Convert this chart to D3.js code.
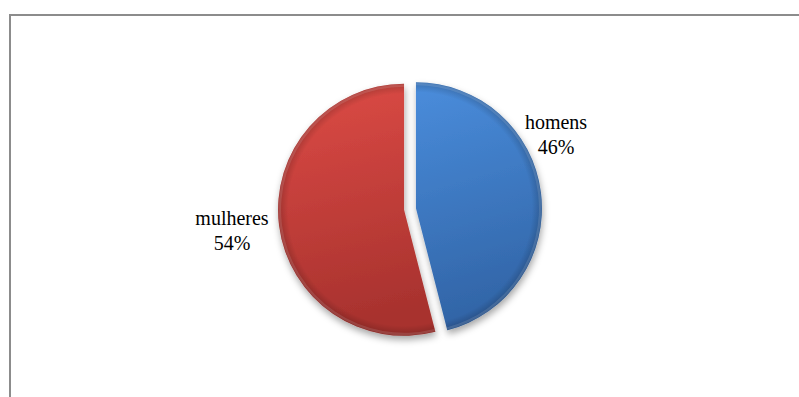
<!DOCTYPE html>
<html>
<head>
<meta charset="utf-8">
<script src="https://cdn.jsdelivr.net/npm/d3@7"></script>
<style>
  html, body { margin: 0; padding: 0; background: #fff; }
  svg { display: block; }
</style>
</head>
<body>
<svg id="chart" width="799" height="397"></svg>
<script>
// Sexo dos respondentes
const categories = ["homens", "mulheres"];
const values = [46, 54];
const percentLabels = ["46%", "54%"];

const W = 799, H = 397;
const cx = 410, cy = 209, R = 126, explode = 6;
const palette = {
  homens:   { top: "#4a8ddc", bottom: "#3164a6" },
  mulheres: { top: "#dd4b46", bottom: "#a8322e" }
};
// label anchor points (centre of the two-line label)
const labelPos = { homens: [556, 136], mulheres: [232, 232] };

const svg = d3.select("#chart");
const defs = svg.append("defs");

// chart frame
svg.append("rect")
  .attr("x", 10).attr("y", 15)
  .attr("width", 900).attr("height", 500)
  .attr("fill", "#fff")
  .attr("stroke", "#8c8c8c")
  .attr("stroke-width", 2);

const shadow = defs.append("filter").attr("id", "shadow")
  .attr("x", "-20%").attr("y", "-20%").attr("width", "140%").attr("height", "150%");
shadow.append("feDropShadow")
  .attr("dx", 1).attr("dy", 4).attr("stdDeviation", 3.5)
  .attr("flood-color", "#000").attr("flood-opacity", 0.35);

categories.forEach(c => {
  const g = defs.append("linearGradient").attr("id", "grad-" + c)
    .attr("x1", 0).attr("y1", 0).attr("x2", 0.15).attr("y2", 1);
  g.append("stop").attr("offset", "0%").attr("stop-color", palette[c].top);
  g.append("stop").attr("offset", "100%").attr("stop-color", palette[c].bottom);
});

// soft bevel around the rim
const bevel = defs.append("radialGradient").attr("id", "bevel")
  .attr("gradientUnits", "userSpaceOnUse")
  .attr("cx", 0).attr("cy", 0).attr("r", R);
bevel.append("stop").attr("offset", "0%").attr("stop-color", "#000").attr("stop-opacity", 0);
bevel.append("stop").attr("offset", "92%").attr("stop-color", "#000").attr("stop-opacity", 0);
bevel.append("stop").attr("offset", "100%").attr("stop-color", "#000").attr("stop-opacity", 0.2);

const pie = d3.pie().sort(null).startAngle(0).endAngle(2 * Math.PI)(values);
const arc = d3.arc().innerRadius(0).outerRadius(R);

const slices = svg.append("g").attr("transform", `translate(${cx},${cy})`)
  .selectAll("g.slice")
  .data(pie)
  .join("g")
  .attr("class", "slice")
  .attr("transform", d => {
    const a = (d.startAngle + d.endAngle) / 2;
    return `translate(${explode * Math.sin(a)},${-explode * Math.cos(a)})`;
  });

slices.append("path")
  .attr("d", arc)
  .attr("fill", (d, i) => `url(#grad-${categories[i]})`)
  .attr("filter", "url(#shadow)");

slices.append("path")
  .attr("d", arc)
  .attr("fill", "url(#bevel)");

// light highlight along the rim
slices.append("path")
  .attr("d", d3.arc().innerRadius(R - 3).outerRadius(R - 0.5))
  .attr("fill", "#fff")
  .attr("opacity", 0.12);

// labels
const labels = svg.append("g");
categories.forEach((c, i) => {
  const [lx, ly] = labelPos[c];
  const t = labels.append("text")
    .attr("text-anchor", "middle")
    .attr("font-family", "'Liberation Serif', 'Times New Roman', 'DejaVu Serif', serif")
    .attr("font-size", 20)
    .attr("fill", "#000");
  t.append("tspan").attr("x", lx).attr("y", ly - 7).text(c);
  t.append("tspan").attr("x", lx).attr("y", ly + 18).text(percentLabels[i]);
});
</script>
</body>
</html>
